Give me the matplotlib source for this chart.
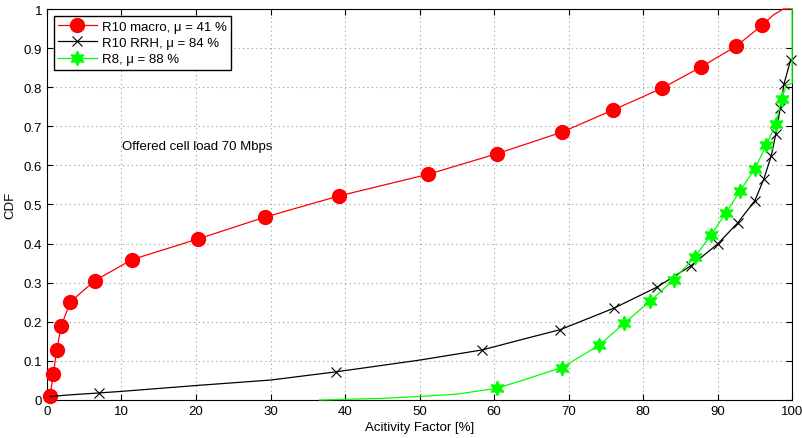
import matplotlib
matplotlib.use('Agg')
import matplotlib.pyplot as plt
from matplotlib.ticker import FormatStrFormatter

plt.rcParams['font.family'] = ['Liberation Sans', 'DejaVu Sans']
plt.rcParams['font.size'] = 9.5

# R10 macro
red_x = [0.4, 0.85, 1.3, 1.9, 3.1, 6.4, 11.4, 20.3, 29.3, 39.2, 51.1, 60.4, 69.1,
         76.0, 82.6, 87.8, 92.5, 96.0, 97.5, 98.8, 100]
red_y = [0.010, 0.066, 0.127, 0.188, 0.25, 0.305, 0.359, 0.412, 0.468, 0.522, 0.577,
         0.63, 0.685, 0.742, 0.798, 0.852, 0.905, 0.959, 0.985, 1.0, 1.0]
red_marks = list(range(18))

# R10 RRH
black_x = [0.4, 3, 7.0, 10, 20, 30, 38.8, 50, 58.4, 64.4, 68.9, 76.1, 81.8, 86.4,
           90.0, 92.7, 95.0, 96.2, 97.2, 97.8, 98.4, 98.9, 99.8]
black_y = [0.009, 0.013, 0.018, 0.022, 0.037, 0.051, 0.072, 0.102, 0.128, 0.158,
           0.180, 0.235, 0.288, 0.343, 0.399, 0.453, 0.51, 0.565, 0.625, 0.68,
           0.746, 0.808, 0.870]
black_marks = [2, 6, 8] + list(range(10, 23))

# R8
green_x = [36.6, 45, 50, 55, 60.4, 64.4, 69.1, 74.1, 77.5, 80.9, 84.1, 86.9, 89.1,
           91.1, 93.0, 95.0, 96.5, 97.8, 98.6, 99.2, 100, 100]
green_y = [0.0, 0.004, 0.009, 0.015, 0.03, 0.054, 0.083, 0.14, 0.197, 0.252, 0.308,
           0.365, 0.422, 0.478, 0.535, 0.591, 0.651, 0.706, 0.77, 0.805, 0.81, 1.0]
green_marks = [4] + list(range(6, 19))

fig = plt.figure(figsize=(8.03, 4.39), dpi=100)
ax = fig.add_axes([0.0585, 0.0866, 0.928, 0.8906])

ax.plot(red_x, red_y, color='#ff0000', lw=0.9, marker='o', ms=10,
        markevery=red_marks, clip_on=False, zorder=3, label='R10 macro, μ = 41 %')
ax.plot(black_x, black_y, color='black', lw=0.9, marker='x', ms=7, mew=0.8,
        markevery=black_marks, clip_on=False, zorder=3, label='R10 RRH, μ = 84 %')
ax.plot(green_x, green_y, color='#00ff00', lw=0.9, marker=(6, 1, 0), ms=10.5,
        markevery=green_marks, clip_on=False, zorder=3, label='R8, μ = 88 %')

ax.text(10.1, 0.65, 'Offered cell load 70 Mbps', va='center', ha='left')

ax.set_xlim(0, 100)
ax.set_ylim(0, 1)
ax.set_xticks(range(0, 101, 10))
ax.set_yticks([i / 10 for i in range(11)])
ax.yaxis.set_major_formatter(FormatStrFormatter('%g'))
ax.tick_params(direction='in', top=True, right=True, length=4, width=0.8)
ax.grid(True, color='#999999', linestyle=(0, (1, 3)), lw=0.8)
for s in ax.spines.values():
    s.set_linewidth(0.8)

ax.set_xlabel('Acitivity Factor [%]', labelpad=3)
ax.set_ylabel('CDF', labelpad=5)

leg = ax.legend(loc='upper left', bbox_to_anchor=(0.009, 0.982), borderaxespad=0,
                fancybox=False, edgecolor='black', framealpha=1, handlelength=2.9,
                labelspacing=0.3, borderpad=0.35, handletextpad=0.4)
leg.get_frame().set_linewidth(1.0)

fig.savefig('out.png', dpi=100)
